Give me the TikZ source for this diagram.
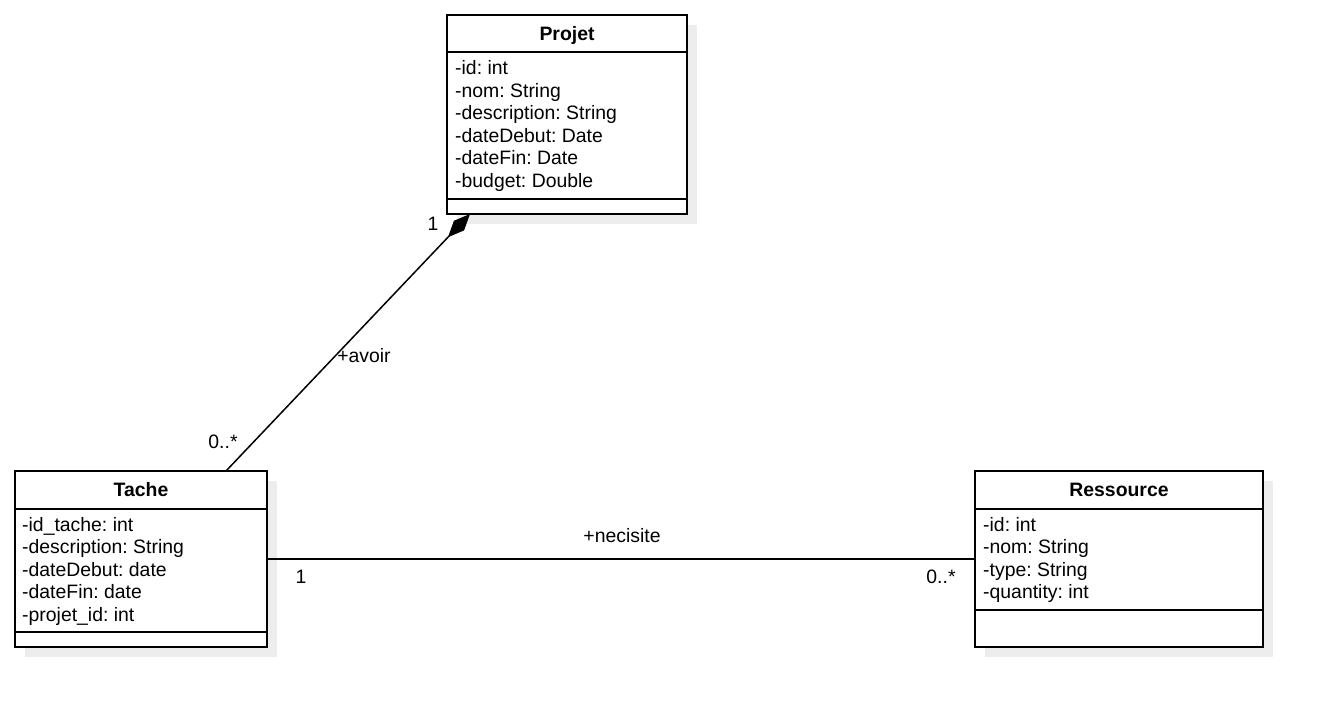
\documentclass[tikz,border=0pt]{standalone}
\usepackage{fontspec}
\setmainfont{Liberation Sans}
\usetikzlibrary{arrows.meta}
\definecolor{shadecol}{HTML}{EDEDED}
\frenchspacing
\begin{document}
\begin{tikzpicture}[x=1pt,y=-1pt,
  font=\fontsize{19.4}{22.6}\selectfont,
  classbox/.style={draw=black, line width=2pt, fill=white, anchor=north west,
    inner sep=0pt, outer sep=0pt},
  hdr/.style={font=\fontsize{19.4}{22.6}\selectfont\bfseries, anchor=base, inner sep=0pt},
  attr/.style={anchor=base west, inner sep=0pt},
  sep/.style={line width=2pt},
  shade/.style={fill=shadecol},
  assoc/.style={line width=1.5pt},
  lbl/.style={inner sep=0pt}
]
\useasboundingbox[fill=white] (0,0) rectangle (1324,708);

% drop shadows
\fill[shade] (457,25) rectangle (697,224);
\fill[shade] (25,481) rectangle (277,657);
\fill[shade] (985,481) rectangle (1273,657);

% class Projet
\node[classbox, minimum width=240pt, minimum height=199pt] (projet) at (447,15) {};
\draw[sep] ([yshift=-37pt]projet.north west) -- ([yshift=-37pt]projet.north east);
\draw[sep] ([yshift=15pt]projet.south west) -- ([yshift=15pt]projet.south east);
\node[hdr] (projet-name) at (567,40.7) {Projet};
\foreach \t [count=\i from 0] in {-id: int, -nom: String, -description: String,
    -dateDebut: Date, -dateFin: Date, -budget: Double}
  \node[attr] (projet-a\i) at (455,{75+22.5*\i}) {\t};

% class Tache
\node[classbox, minimum width=252pt, minimum height=176pt] (tache) at (15,471) {};
\draw[sep] ([yshift=-37.5pt]tache.north west) -- ([yshift=-37.5pt]tache.north east);
\draw[sep] ([yshift=15pt]tache.south west) -- ([yshift=15pt]tache.south east);
\node[hdr] (tache-name) at (141,496.7) {Tache};
\foreach \t [count=\i from 0] in {-id\_tache: int, -description: String,
    -dateDebut: date, -dateFin: date, -projet\_id: int}
  \node[attr] (tache-a\i) at (22,{531+22.6*\i}) {\t};

% class Ressource
\node[classbox, minimum width=288pt, minimum height=176pt] (ressource) at (975,471) {};
\draw[sep] ([yshift=-37.5pt]ressource.north west) -- ([yshift=-37.5pt]ressource.north east);
\draw[sep] ([yshift=37pt]ressource.south west) -- ([yshift=37pt]ressource.south east);
\node[hdr] (ressource-name) at (1119,496.7) {Ressource};
\foreach \t [count=\i from 0] in {-id: int, -nom: String, -type: String, -quantity: int}
  \node[attr] (ressource-a\i) at (983,{531+22.6*\i}) {\t};

% composition Projet <>-- Tache
\draw[assoc, {Diamond[length=32pt,width=14pt]}-]
  ([xshift=23pt]projet.south west) -- ([xshift=211pt]tache.north west);
\node[lbl] (avoir) at (364,356) {+avoir};
\node[lbl] (m-projet) at (433,224) {1};
\node[lbl] (m-tache1) at (223,442) {0..*};

% association Tache -- Ressource
\draw[assoc] (tache.east) -- (ressource.west);
\node[lbl] (necisite) at (622,536) {+necisite};
\node[lbl] (m-tache2) at (301,577) {1};
\node[lbl] (m-ressource) at (941,577) {0..*};
\end{tikzpicture}
\end{document}
